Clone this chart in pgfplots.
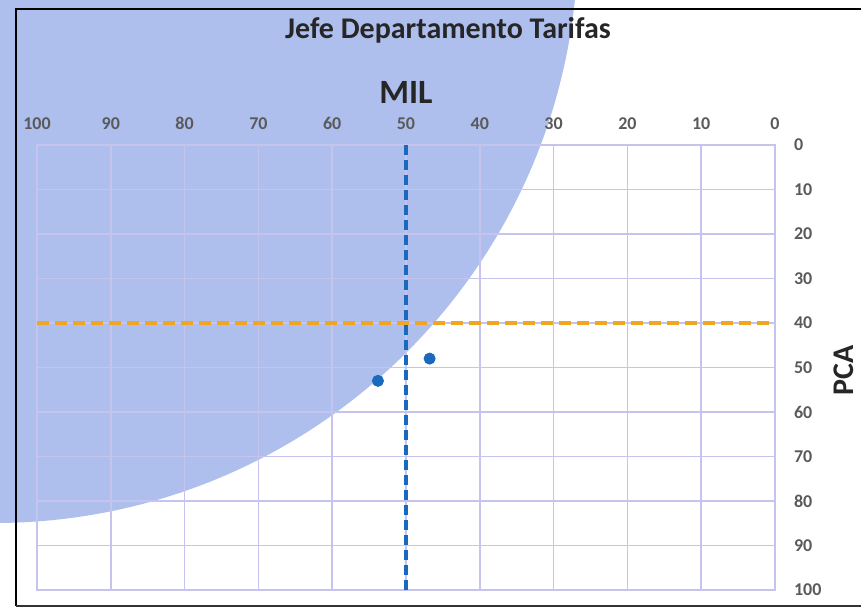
\documentclass[border=0pt]{standalone}
\usepackage{pgfplots}
\pgfplotsset{compat=1.18}
\usepackage{fontspec}
\setmainfont{Carlito}
\definecolor{circfill}{RGB}{174,190,237}
\definecolor{gridc}{RGB}{196,196,238}
\definecolor{dashblue}{RGB}{25,105,190}
\definecolor{dashorange}{RGB}{240,165,35}
\definecolor{ticktext}{RGB}{90,90,90}
\begin{document}
\begin{tikzpicture}
\useasboundingbox (0,0) rectangle (430.5pt,305pt);
% decorative disc behind the chart
\begin{scope}
  \clip (0,0) rectangle (430.5pt,305pt);
  \fill[circfill] (-3pt,335.5pt) circle (292pt);
\end{scope}
% photo frame
\draw[black, line width=1.2pt] (8pt,2pt) -- (8pt,300.5pt) -- (430.5pt,300.5pt);
\draw[black!80, line width=1.2pt] (8pt,2pt) -- (430.5pt,2pt);
\begin{axis}[
    at={(18.5pt,10pt)}, anchor=south west,
    scale only axis,
    width=369pt, height=222.5pt,
    xmin=0, xmax=100, ymin=0, ymax=100,
    x dir=reverse, y dir=reverse,
    xtick={0,10,...,100}, ytick={0,10,...,100},
    xticklabel pos=right, yticklabel pos=right,
    major tick length=0pt,
    grid=major,
    grid style={gridc, line width=0.8pt},
    axis line style={gridc, line width=0.8pt},
    /pgf/number format/assume math mode=true,
    ticklabel style={font=\fontsize{9}{10}\selectfont\bfseries, text=ticktext},
    xticklabel style={yshift=4pt},
    yticklabel style={anchor=west, xshift=6pt},
    title={Jefe Departamento Tarifas},
    every axis title/.style={at={(axis description cs:0.557,1.258)}, anchor=center,
                 font=\fontsize{15}{17}\selectfont\bfseries, text=black!85},
    xlabel={MIL},
    every axis x label/.style={at={(axis description cs:0.5,1.119)}, anchor=center,
                  font=\fontsize{17}{19}\selectfont\bfseries, text=black!85},
    ylabel={PCA},
    every axis y label/.style={at={(axis description cs:1.0935,0.494)}, anchor=center, rotate=90,
                  inner sep=0pt,
                  font=\fontsize{15}{17}\selectfont\bfseries, text=black!85},
]
\addplot[dashorange, line width=2pt, dash pattern=on 6pt off 3pt] coordinates {(100,40) (0,40)};
\addplot[dashblue, line width=2pt, dash pattern=on 5pt off 2.5pt] coordinates {(50,0) (50,100)};
\addplot[only marks, mark=*, mark size=2.8pt, dashblue] coordinates {(53.8,53) (46.8,48)};
\end{axis}
\end{tikzpicture}
\end{document}
